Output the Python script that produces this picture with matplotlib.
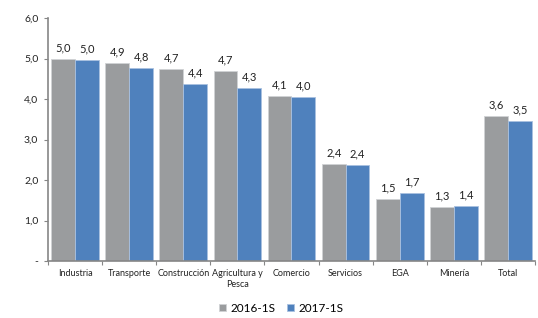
import matplotlib
matplotlib.use("Agg")
import matplotlib.pyplot as plt
import numpy as np

categories = ["Industria", "Transporte", "Construcción", "Agricultura y\nPesca",
              "Comercio", "Servicios", "EGA", "Minería", "Total"]
s2016 = [5.00, 4.90, 4.73, 4.70, 4.08, 2.40, 1.53, 1.33, 3.58]
s2017 = [4.96, 4.76, 4.38, 4.28, 4.04, 2.37, 1.68, 1.36, 3.46]
series_names = ["2016-1S", "2017-1S"]
yticks = [0, 1, 2, 3, 4, 5, 6]
ytick_labels = ["-", "1,0", "2,0", "3,0", "4,0", "5,0", "6,0"]

plt.rcParams['font.family'] = ['Lato', 'DejaVu Sans']
gray = "#9A9C9E"
blue = "#4F81BD"
axis_col = "#868686"

fig = plt.figure(figsize=(5.38, 3.18), dpi=100)
ax = fig.add_axes([48/538, (318-261)/318, (535-48)/538, (261-18)/318])

x = np.arange(len(categories))
w = 0.44
b1 = ax.bar(x - w/2, s2016, w, color=gray, edgecolor="#D0D2D4", linewidth=0.6, label=series_names[0])
b2 = ax.bar(x + w/2, s2017, w, color=blue, edgecolor="#A9C1E0", linewidth=0.6, label=series_names[1])

def fmt(v):
    return f"{v:.1f}".replace(".", ",")

for bars, vals in ((b1, s2016), (b2, s2017)):
    for r, v in zip(bars, vals):
        ax.annotate(fmt(v), (r.get_x() + r.get_width()/2, r.get_height()),
                    xytext=(0, 4), textcoords="offset points",
                    ha="center", va="bottom", fontsize=8, color="#222222")

ax.set_xlim(-0.5, len(categories) - 0.5)
ax.set_ylim(0, 6)
ax.set_yticks(yticks)
ax.set_yticklabels(ytick_labels, fontsize=7.5, color="#222222")
ax.set_xticks(x)
ax.set_xticklabels(categories, fontsize=6.5, color="#222222")
ax.tick_params(axis="x", length=0, pad=6)
ax.set_xticks(np.arange(len(categories) + 1) - 0.5, minor=True)
ax.tick_params(axis="x", which="minor", length=3, color=axis_col, width=0.8)
ax.tick_params(axis="y", length=3, color=axis_col, width=0.8, pad=4)

for s in ("top", "right"):
    ax.spines[s].set_visible(False)
for s in ("left", "bottom"):
    ax.spines[s].set_color(axis_col)
    ax.spines[s].set_linewidth(1.2)

leg = fig.legend(handles=[b1, b2], labels=series_names, loc="center",
                 bbox_to_anchor=(281/538, (318-310)/318 + 0.005), ncol=2, frameon=False,
                 fontsize=8.5, handlelength=0.6, handleheight=0.6, columnspacing=1.0,
                 handletextpad=0.35)

fig.savefig("out.png", dpi=100)
